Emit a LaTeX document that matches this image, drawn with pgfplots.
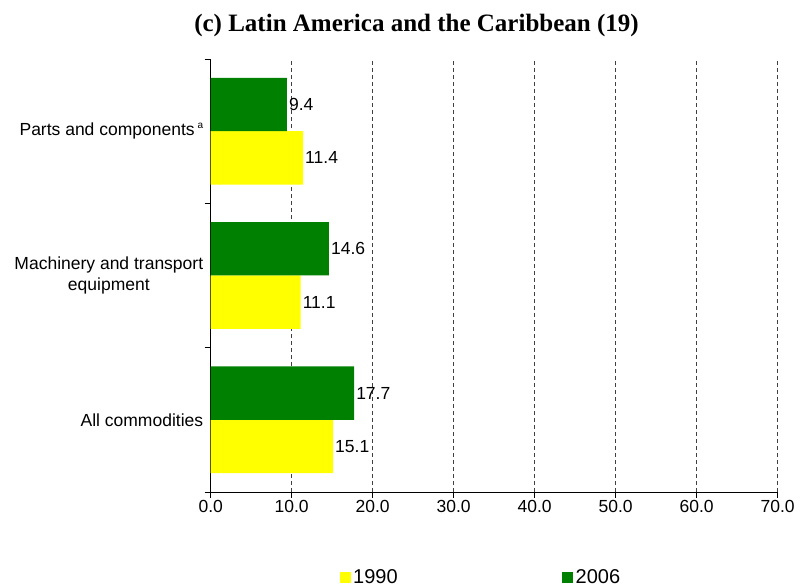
\documentclass[border=0pt]{standalone}
\usepackage{pgfplots}
\pgfplotsset{compat=1.18}
\usepackage{fontspec}
\setmainfont{Liberation Sans}
\newfontfamily\titlefont{Liberation Serif}
\definecolor{cgreen}{RGB}{0,128,0}
\definecolor{cyellow}{RGB}{255,255,0}
\begin{document}
\begin{tikzpicture}
\begin{axis}[
  scale only axis,
  width=567bp, height=433bp,
  xmin=0, xmax=70,
  ymin=-0.5, ymax=2.5,
  axis lines=left,
  axis line style={-, line width=0.9bp},
  xtick={0,10,...,70},
  minor xtick={0,10,...,70},
  xticklabel style={yshift=-5bp, /pgf/number format/.cd, fixed, fixed zerofill, precision=1},
  /pgf/number format/assume math mode=true,
  tick label style={font=\fontsize{17.5bp}{21bp}\selectfont, text=black},
  xtick align=outside,
  ytick={0,1,2},
  yticklabels={All commodities, {Machinery and transport\\equipment}, {Parts and components\,\raisebox{0.45em}{\fontsize{10bp}{12bp}\selectfont a}}},
  yticklabel style={align=center, xshift=-4bp},
  major tick length=0pt,
  minor ytick={-0.5,0.5,1.5,2.5},
  minor tick length=6bp,
  ytick align=outside,
  every tick/.style={black, line width=0.9bp},
  xmajorgrids,
  major grid style={black!75, line width=0.9bp, dash pattern=on 4bp off 3bp},
  title={\titlefont\bfseries (c) Latin America and the Caribbean (19)},
  title style={font=\fontsize{25bp}{30bp}\selectfont, at={(0.363,1)}, anchor=center, yshift=27.5bp},
  xbar, bar width=0.37,
  nodes near coords,
  nodes near coords style={font=\fontsize{17.5bp}{21bp}\selectfont, text=black, anchor=west, inner sep=2bp, /pgf/number format/.cd, fixed, fixed zerofill, precision=1},
  legend style={at={(0.477,-0.197)}, anchor=center, draw=none, legend columns=2,
    font=\fontsize{20bp}{24bp}\selectfont, inner sep=0pt,
    nodes={inner sep=2.5bp},
    /tikz/every even column/.append style={column sep=162bp}},
  legend image code/.code={\fill[#1] (-2.5bp,-5.5bp) rectangle (8.5bp,5.5bp);},
  clip=false,
]
\addplot[fill=cyellow, draw=none, bar shift=-0.185] coordinates {(15.1,0) (11.1,1) (11.4,2)};
\addplot[fill=cgreen, draw=none, bar shift=0.185] coordinates {(17.7,0) (14.6,1) (9.4,2)};
\legend{1990,2006}
\end{axis}
\path[use as bounding box] (-210.7bp,-93bp) rectangle (590.3bp,492bp);
\end{tikzpicture}
\end{document}
